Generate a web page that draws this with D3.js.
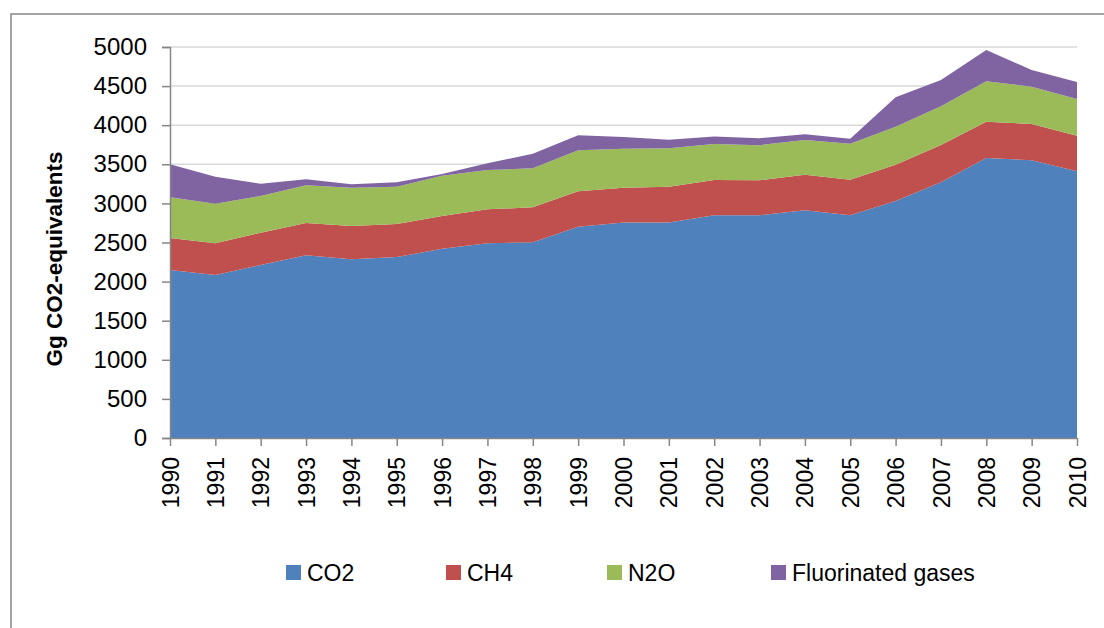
<!DOCTYPE html>
<html>
<head>
<meta charset="utf-8">
<script src="https://cdn.jsdelivr.net/npm/d3@7"></script>
<style>
  body { margin: 0; background: #fff; }
  svg { display: block; font-family: "Liberation Sans", Arial, sans-serif; }
</style>
</head>
<body>
<svg id="chart" width="1104" height="628"></svg>
<script>
const years = ["1990","1991","1992","1993","1994","1995","1996","1997","1998","1999","2000",
               "2001","2002","2003","2004","2005","2006","2007","2008","2009","2010"];
const co2 = [2148, 2084, 2212, 2336, 2285, 2313, 2421, 2490, 2502, 2702, 2757,
             2757, 2848, 2848, 2912, 2848, 3031, 3270, 3581, 3551, 3411];
const ch4 = [410, 406, 413, 413, 426, 424, 418, 434, 448, 452, 444,
             457, 451, 447, 455, 456, 464, 477, 464, 464, 455];
const n2o = [520, 506, 470, 482, 490, 477, 515, 503, 499, 525, 499,
             490, 461, 450, 444, 460, 486, 495, 516, 478, 469];
const fgases = [422, 346, 157, 77, 43, 56, 22, 86, 187, 192, 149,
                111, 97, 89, 73, 64, 376, 336, 401, 213, 218];
const seriesNames = ["CO2", "CH4", "N2O", "Fluorinated gases"];
const seriesColors = ["#4f81bd", "#c0504d", "#9bbb59", "#8064a2"];
const yTicks = [0, 500, 1000, 1500, 2000, 2500, 3000, 3500, 4000, 4500, 5000];

const svg = d3.select("#chart");
const plotLeft = 170, plotRight = 1077, plotTop = 47, plotBottom = 438;

// outer frame
svg.append("rect")
    .attr("x", 11).attr("y", 14)
    .attr("width", 1200).attr("height", 700)
    .attr("fill", "none").attr("stroke", "#878787").attr("stroke-width", 1.5);

const table = years.map((yr, i) => ({
    year: yr, "CO2": co2[i], "CH4": ch4[i], "N2O": n2o[i], "Fluorinated gases": fgases[i]
}));

const x = d3.scalePoint().domain(years).range([plotLeft, plotRight]);
const y = d3.scaleLinear().domain([0, 5000]).range([plotBottom, plotTop]);

// gridlines
svg.append("g")
    .selectAll("line")
    .data(yTicks.filter(t => t > 0))
    .enter().append("line")
    .attr("x1", plotLeft).attr("x2", plotRight)
    .attr("y1", d => y(d)).attr("y2", d => y(d))
    .attr("stroke", "#d9d9d9").attr("stroke-width", 1.5);

const layers = d3.stack().keys(seriesNames)(table);

const area = d3.area()
    .x(d => x(d.data.year))
    .y0(d => y(d[0]))
    .y1(d => y(d[1]));

svg.append("g")
    .selectAll("path")
    .data(layers)
    .enter().append("path")
    .attr("d", area)
    .attr("fill", (d, i) => seriesColors[i]);

// y axis
const yAxis = svg.append("g")
    .attr("transform", `translate(${plotLeft},0)`)
    .call(d3.axisLeft(y).tickValues(yTicks).tickSize(8).tickPadding(15).tickFormat(d3.format("d")));
yAxis.selectAll("path, line").attr("stroke", "#868686").attr("stroke-width", 1.5);
yAxis.selectAll("text").attr("font-size", "24px").attr("fill", "#000")
    .attr("font-family", "'Liberation Sans', Arial, sans-serif");

// x axis
const xAxis = svg.append("g")
    .attr("transform", `translate(0,${plotBottom})`)
    .call(d3.axisBottom(x).tickSize(8).tickSizeOuter(0));
xAxis.selectAll("path, line").attr("stroke", "#868686").attr("stroke-width", 1.5);
xAxis.selectAll("text")
    .attr("font-size", "23px").attr("fill", "#000")
    .attr("font-family", "'Liberation Sans', Arial, sans-serif")
    .attr("transform", "rotate(-90)")
    .attr("text-anchor", "end")
    .attr("x", -19).attr("y", 0).attr("dy", "0.35em");

// y axis title
svg.append("text")
    .attr("transform", "translate(54,259) rotate(-90)")
    .attr("text-anchor", "middle")
    .attr("dy", "0.35em")
    .attr("font-size", "22.5px")
    .attr("font-weight", "bold")
    .text("Gg CO2-equivalents");

// legend
const legendX = [286, 446, 607, 771];
const legend = svg.append("g")
    .selectAll("g")
    .data(seriesNames)
    .enter().append("g")
    .attr("transform", (d, i) => `translate(${legendX[i]},565)`);
legend.append("rect")
    .attr("width", 15).attr("height", 15)
    .attr("fill", (d, i) => seriesColors[i]);
legend.append("text")
    .attr("x", 21).attr("y", 8).attr("dy", "0.35em")
    .attr("font-size", "23px")
    .text(d => d);
</script>
</body>
</html>
